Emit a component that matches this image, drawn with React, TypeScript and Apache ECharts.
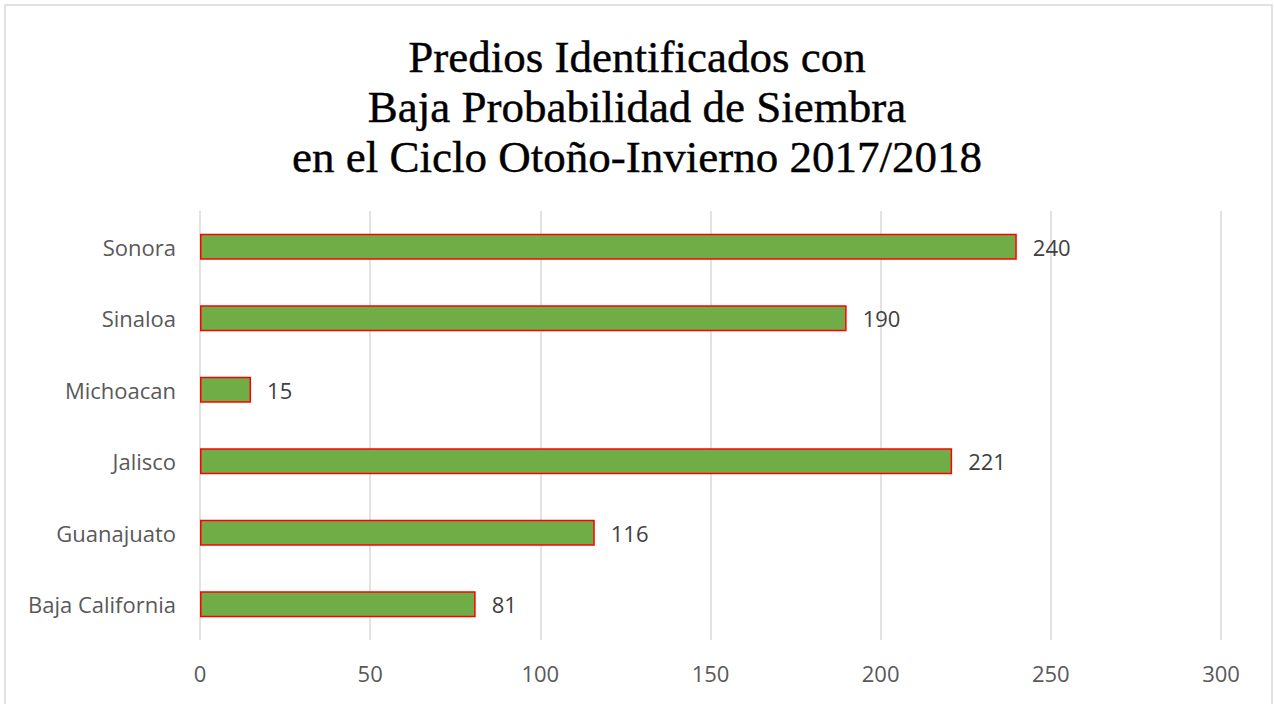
import React, { useEffect, useRef } from "react";
import * as echarts from "echarts";

const categories = ["Baja California", "Guanajuato", "Jalisco", "Michoacan", "Sinaloa", "Sonora"];
const values = [81, 116, 221, 15, 190, 240];
const titleLines = [
  "Predios Identificados con",
  "Baja Probabilidad de Siembra",
  "en el Ciclo Otoño-Invierno 2017/2018",
];

export default function App() {
  const ref = useRef<HTMLDivElement>(null);
  useEffect(() => {
    if (!ref.current) return;
    const chart = echarts.init(ref.current, null, { renderer: "svg" });
    chart.setOption({
      animation: false,
      backgroundColor: "#ffffff",
      title: {
        text: titleLines.join("\n"),
        left: "center",
        top: 27,
        textStyle: {
          fontFamily: "Liberation Serif",
          fontSize: 45,
          fontWeight: "normal",
          lineHeight: 50,
          color: "#000000",
          textBorderColor: "#000000",
          textBorderWidth: 0.4,
        },
      },
      graphic: [
        {
          type: "rect",
          shape: { x: 5, y: 5, width: 1267, height: 720 },
          style: { fill: "none", stroke: "#d9d9d9", lineWidth: 1.5 },
          silent: true,
        },
      ],
      grid: { left: 200, right: 53, top: 211, bottom: 64, containLabel: false },
      xAxis: {
        type: "value",
        min: 0,
        max: 300,
        interval: 50,
        axisLine: { show: false },
        axisTick: { show: false },
        splitLine: { lineStyle: { color: "#d9d9d9", width: 1.5 } },
        axisLabel: {
          color: "#595959",
          fontSize: 22,
          fontFamily: "Open Sans",
          margin: 22,
        },
      },
      yAxis: {
        type: "category",
        data: categories,
        axisLine: { show: false },
        axisTick: { show: false },
        axisLabel: {
          color: "#595959",
          fontSize: 22,
          fontFamily: "Open Sans",
          margin: 24,
        },
      },
      series: [
        {
          type: "bar",
          data: values,
          barWidth: 26,
          itemStyle: { color: "#70AD47", borderColor: "#FF0000", borderWidth: 1.5 },
          label: {
            show: true,
            position: "right",
            distance: 16,
            color: "#404040",
            fontSize: 22,
            fontFamily: "Open Sans",
          },
        },
      ],
    });
    return () => chart.dispose();
  }, []);
  return (
    <div
      ref={ref}
      style={{ position: "absolute", left: 0, top: 0, width: 1274, height: 704 }}
    />
  );
}
